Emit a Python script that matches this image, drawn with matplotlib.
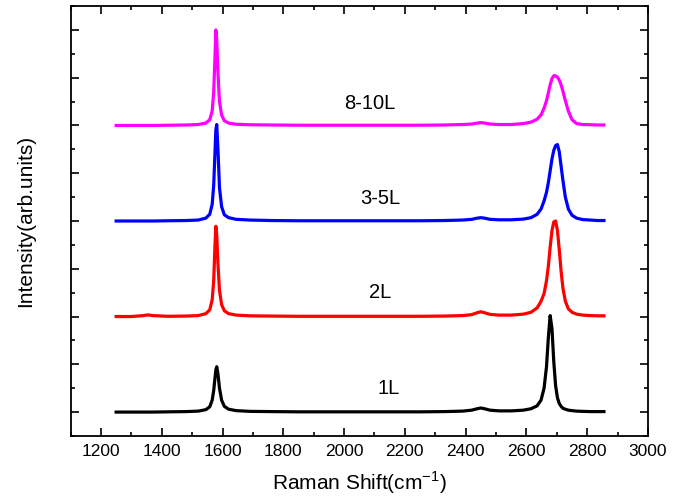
import matplotlib
matplotlib.use("Agg")
from matplotlib import pyplot as plt
from matplotlib.ticker import MultipleLocator

plt.rcParams['font.family'] = ['Liberation Sans', 'DejaVu Sans']
plt.rcParams['mathtext.fontset'] = 'custom'
plt.rcParams['mathtext.rm'] = 'Liberation Sans'

# Raman shift grid (cm-1)
shift = [1250, 1300, 1340, 1355, 1370, 1420, 1480, 1520, 1545, 1558,
         1566, 1571, 1575, 1578, 1581, 1585, 1590, 1597, 1606, 1620,
         1645, 1690, 1760, 1850, 1950, 2050, 2150, 2250, 2330, 2390,
         2420, 2438, 2450, 2462, 2480, 2510, 2550, 2590, 2615, 2635,
         2648, 2658, 2666, 2672, 2678, 2684, 2690, 2696, 2702, 2708,
         2714, 2720, 2728, 2738, 2750, 2765, 2785, 2810, 2835, 2855]

# intensities above each baseline (arb. units)
i_1L = [0.0, 0.0, 0.0, 0.0, 0.0, 0.005, 0.01, 0.02, 0.05, 0.11,
        0.25, 0.45, 0.70, 0.88, 0.95, 0.80, 0.50, 0.25, 0.12, 0.06,
        0.03, 0.015, 0.01, 0.005, 0.005, 0.005, 0.005, 0.005, 0.01, 0.02,
        0.04, 0.07, 0.085, 0.07, 0.04, 0.025, 0.025, 0.04, 0.07, 0.13,
        0.25, 0.50, 0.95, 1.55, 2.02, 1.75, 1.05, 0.55, 0.30, 0.18,
        0.12, 0.08, 0.06, 0.04, 0.03, 0.02, 0.015, 0.01, 0.01, 0.01]

i_2L = [0.0, 0.0, 0.02, 0.035, 0.02, 0.005, 0.01, 0.02, 0.06, 0.14,
        0.35, 0.75, 1.45, 1.89, 1.70, 1.10, 0.55, 0.25, 0.12, 0.06,
        0.03, 0.015, 0.01, 0.005, 0.005, 0.005, 0.005, 0.005, 0.01, 0.02,
        0.04, 0.08, 0.10, 0.08, 0.045, 0.03, 0.03, 0.05, 0.09, 0.18,
        0.32, 0.48, 0.75, 1.05, 1.45, 1.80, 1.98, 2.00, 1.80, 1.40,
        0.95, 0.60, 0.32, 0.16, 0.09, 0.05, 0.03, 0.02, 0.015, 0.015]

i_3_5L = [0.0, 0.0, 0.0, 0.0, 0.0, 0.005, 0.01, 0.02, 0.06, 0.14,
          0.35, 0.75, 1.40, 1.90, 2.02, 1.50, 0.70, 0.30, 0.13, 0.07,
          0.035, 0.02, 0.01, 0.005, 0.005, 0.005, 0.005, 0.005, 0.01, 0.02,
          0.035, 0.06, 0.07, 0.06, 0.035, 0.025, 0.025, 0.04, 0.07, 0.14,
          0.25, 0.42, 0.60, 0.80, 1.05, 1.30, 1.48, 1.58, 1.60, 1.45,
          1.15, 0.85, 0.50, 0.25, 0.12, 0.06, 0.03, 0.02, 0.01, 0.01]

i_8_10L = [0.0, 0.0, 0.0, 0.0, 0.0, 0.005, 0.01, 0.02, 0.05, 0.12,
           0.30, 0.70, 1.40, 2.00, 1.80, 1.10, 0.50, 0.22, 0.10, 0.05,
           0.025, 0.015, 0.01, 0.005, 0.005, 0.005, 0.005, 0.005, 0.01, 0.02,
           0.03, 0.05, 0.06, 0.05, 0.03, 0.02, 0.02, 0.04, 0.07, 0.13,
           0.22, 0.36, 0.52, 0.68, 0.85, 0.98, 1.04, 1.04, 1.01, 0.95,
           0.85, 0.72, 0.52, 0.30, 0.12, 0.04, 0.02, 0.015, 0.01, 0.01]

labels = ['1L', '2L', '3-5L', '8-10L']
baselines = [0, 2, 4, 6]
colors = ['black', 'red', 'blue', 'magenta']
label_x = [2145, 2118, 2118, 2085]
label_y = [0.5, 2.5, 4.47, 6.45]


def main():
    fig = plt.figure(figsize=(6.85, 5.04), dpi=100)
    ax = fig.add_axes([0.103, 0.135, 0.843, 0.853])

    series = [i_1L, i_2L, i_3_5L, i_8_10L]
    for vals, base, col in zip(series, baselines, colors):
        ax.plot(shift, [v + base for v in vals], color=col, lw=2.3)

    for lab, x, y in zip(labels, label_x, label_y):
        ax.text(x, y, lab, fontsize=14.5, ha='center', va='center')

    ax.set_xlim(1100, 3000)
    ax.set_ylim(-0.5, 8.5)
    ax.xaxis.set_major_locator(MultipleLocator(200))
    ax.xaxis.set_minor_locator(MultipleLocator(100))
    ax.yaxis.set_major_locator(MultipleLocator(1))
    ax.yaxis.set_minor_locator(MultipleLocator(0.5))
    ax.tick_params(which='both', direction='in', top=True, right=True, width=1.2)
    ax.tick_params(which='major', length=6, labelsize=12.5, pad=6)
    ax.tick_params(which='minor', length=3)
    ax.tick_params(axis='y', labelleft=False)
    for s in ax.spines.values():
        s.set_linewidth(1.3)

    ax.set_xlabel('Raman Shift(cm$^{\\mathrm{-1}}$)', fontsize=15, labelpad=7)
    ax.set_ylabel('Intensity(arb.units)', fontsize=15, labelpad=22)

    fig.savefig('out.png', dpi=100)


main()
